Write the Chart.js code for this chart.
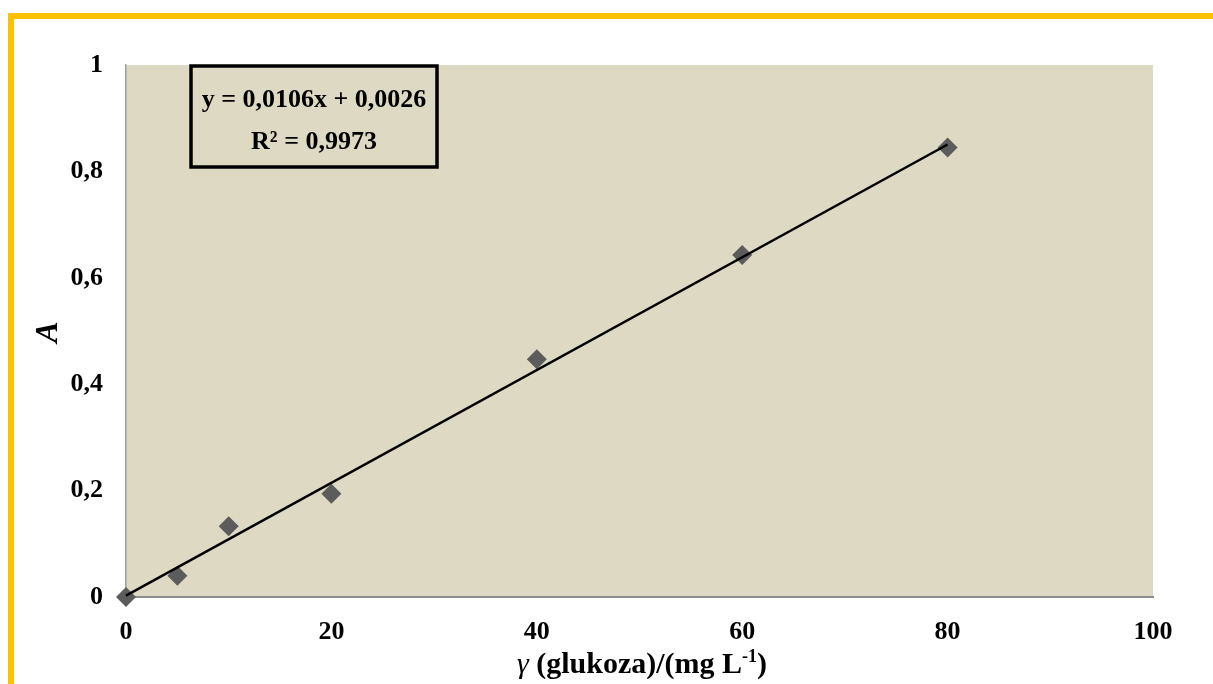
<!DOCTYPE html>
<html>
<head>
<meta charset="utf-8">
<script src="https://cdn.jsdelivr.net/npm/chart.js@4"></script>
<style>
  html, body { margin: 0; padding: 0; background: #ffffff; }
  #wrap { width: 1213px; height: 684px; position: relative; }
</style>
</head>
<body>
<div id="wrap"><canvas id="c" width="1213" height="684"></canvas></div>
<script>
// Calibration data: glucose concentration (mg/L) vs. absorbance
const concentrations = [0, 5, 10, 20, 40, 60, 80];
const absorbances = [0, 0.040, 0.133, 0.194, 0.447, 0.643, 0.845];

// Linear fit reported in the equation box
const fitSlope = 0.0106;
const fitIntercept = 0.0026;
const fitR2 = 0.9973;
const fitRange = [0, 80];

// Axis ticks
const xTickValues = [0, 20, 40, 60, 80, 100];
const yTickValues = [0, 0.2, 0.4, 0.6, 0.8, 1];

const SERIF = "'Liberation Serif', 'Times New Roman', serif";
const fmtTick = v => String(Math.round(v * 10) / 10).replace('.', ',');
const fmtCoef = v => v.toFixed(4).replace('.', ',');

const points = concentrations.map((x, i) => ({ x, y: absorbances[i] }));
const trend = fitRange.map(x => ({ x, y: fitSlope * x + fitIntercept }));

// Plot background, outer frame, equation box and axis titles
const decorations = {
  id: 'decorations',
  beforeDraw(chart) {
    const { ctx, chartArea: a } = chart;
    ctx.save();
    ctx.fillStyle = '#ffffff';
    ctx.fillRect(0, 0, chart.width, chart.height);
    // frame strips
    ctx.fillStyle = '#FFC000';
    ctx.fillRect(8, 13, chart.width - 8, 6);
    ctx.fillRect(8, 13, 6, chart.height - 13);
    // plot area fill
    ctx.fillStyle = '#DDD9C3';
    ctx.fillRect(a.left, a.top, a.right - a.left, a.bottom - a.top);
    ctx.restore();
  },
  afterDraw(chart) {
    const { ctx, chartArea: a } = chart;
    ctx.save();
    // equation box
    const bx = a.left + 65, by = a.top + 1, bw = 246, bh = 101;
    ctx.lineWidth = 3.5;
    ctx.strokeStyle = '#000000';
    ctx.strokeRect(bx, by, bw, bh);
    ctx.fillStyle = '#000000';
    ctx.font = 'bold 26px ' + SERIF;
    ctx.textAlign = 'center';
    ctx.textBaseline = 'alphabetic';
    const cx = bx + bw / 2;
    const sign = fitIntercept >= 0 ? ' + ' : ' - ';
    ctx.fillText('y = ' + fmtCoef(fitSlope) + 'x' + sign + fmtCoef(Math.abs(fitIntercept)), cx, by + 41);
    ctx.fillText('R\u00B2 = ' + fmtCoef(fitR2), cx, by + 83);

    // y-axis title
    ctx.save();
    ctx.translate(57, 332);
    ctx.rotate(-Math.PI / 2);
    ctx.font = 'italic bold 32px ' + SERIF;
    ctx.textAlign = 'center';
    ctx.fillText('A', 0, 0);
    ctx.restore();

    // x-axis title with italic gamma and superscript
    const parts = [
      { t: '\u03B3 ', f: 'italic 30px ' + SERIF, dy: 0 },
      { t: '(glukoza)/(mg L', f: 'bold 30px ' + SERIF, dy: 0 },
      { t: '-1', f: 'bold 18px ' + SERIF, dy: -11 },
      { t: ')', f: 'bold 30px ' + SERIF, dy: 0 }
    ];
    let total = 0;
    parts.forEach(p => { ctx.font = p.f; p.w = ctx.measureText(p.t).width; total += p.w; });
    let x = 642 - total / 2;
    const base = 673;
    ctx.textAlign = 'left';
    parts.forEach(p => { ctx.font = p.f; ctx.fillText(p.t, x, base + p.dy); x += p.w; });
    ctx.restore();
  }
};

new Chart(document.getElementById('c'), {
  type: 'scatter',
  data: {
    datasets: [
      {
        label: 'Linear fit',
        type: 'line',
        data: trend,
        borderColor: '#000000',
        borderWidth: 2.5,
        pointRadius: 0,
        fill: false,
        tension: 0,
        clip: false,
        order: 0
      },
      {
        label: 'A',
        data: points,
        pointStyle: 'rectRot',
        pointRadius: 10,
        pointHoverRadius: 10,
        backgroundColor: '#5c5c5c',
        borderColor: '#5c5c5c',
        borderWidth: 0,
        clip: false,
        order: 1
      }
    ]
  },
  options: {
    responsive: false,
    devicePixelRatio: 1,
    animation: false,
    layout: { padding: { top: 65, right: 60, left: 0, bottom: 0 } },
    plugins: {
      legend: { display: false },
      tooltip: { enabled: false }
    },
    scales: {
      x: {
        type: 'linear',
        min: 0,
        max: 100,
        afterFit(s) { s.height = 87; },
        afterBuildTicks(s) { s.ticks = xTickValues.map(v => ({ value: v })); },
        grid: { display: false, drawTicks: false },
        border: { display: true, color: '#8c8c8c', width: 2 },
        ticks: {
          padding: 20,
          color: '#000000',
          font: { family: SERIF, size: 26, weight: 'bold' },
          callback: v => fmtTick(v)
        }
      },
      y: {
        type: 'linear',
        min: 0,
        max: 1,
        afterFit(s) { s.width = 126; },
        afterBuildTicks(s) { s.ticks = yTickValues.map(v => ({ value: v })); },
        grid: { display: false, drawTicks: false },
        border: { display: true, color: '#a0a0a0', width: 1.5 },
        ticks: {
          padding: 23,
          color: '#000000',
          font: { family: SERIF, size: 26, weight: 'bold' },
          callback: v => fmtTick(v)
        }
      }
    }
  },
  plugins: [decorations]
});
</script>
</body>
</html>
